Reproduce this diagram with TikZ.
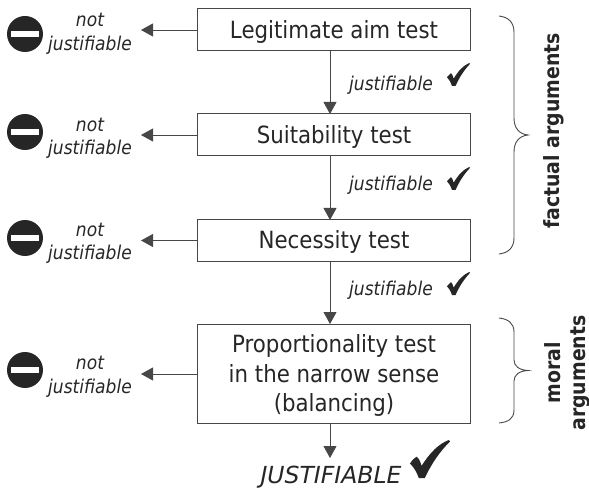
\documentclass[tikz,border=0pt]{standalone}
\usepackage{fontspec}
\setmainfont{DejaVu Sans}[FakeStretch=0.9]
\newfontfamily\widefont{DejaVu Sans}[FakeStretch=1.0]
\usetikzlibrary{arrows.meta}
\definecolor{ink}{HTML}{262626}
\newcommand{\tickshape}{\fill[ink] (0,.62) .. controls (.08,.5) .. (.17,.44) .. controls (.23,.5) .. (.29,.68) .. controls (.5,.33) and (.72,.1) .. (.97,0) -- (1,.04) .. controls (.75,.3) and (.55,.6) .. (.37,1) -- (.22,1) .. controls (.17,.85) and (.1,.72) .. (0,.62) -- cycle;}
\tikzset{
  testbox/.style={draw=ink!85,line width=1pt,fill=white,minimum width=273pt,align=center,inner sep=0pt,font=\fontsize{23.7}{29.5}\selectfont,text=ink},
  flow/.style={draw=ink!85,line width=.8pt,-{Triangle[length=12pt,width=13pt]}},
  italabel/.style={font=\fontsize{19}{23.5}\selectfont\itshape,text=ink,align=center,inner sep=0pt},
  sidelabel/.style={font=\fontsize{21}{25}\selectfont\bfseries,text=ink,align=center,inner sep=0pt,rotate=90},
  bracepath/.style={draw=ink!85,line width=.9pt},
  stopdisc/.style={circle,fill=ink,minimum size=36pt,inner sep=0pt},
  stopbar/.style={fill=white,minimum width=28pt,minimum height=5.5pt,inner sep=0pt},
  smalltick/.pic={\begin{scope}[x=23pt,y=-23pt]\tickshape\end{scope}},
  bigtick/.pic={\begin{scope}[x=40pt,y=-38pt]\tickshape\end{scope}}
}
\begin{document}
\begin{tikzpicture}[x=1pt,y=-1pt]
\useasboundingbox (0,0) rectangle (589,489);
\node[testbox,minimum height=42pt] (t1) at (333.5,30) {};
\node[testbox,minimum height=42pt] (t2) at (333.5,135) {};
\node[testbox,minimum height=42pt] (t3) at (333.5,240.5) {};
\node[testbox,minimum height=99pt] (t4) at (333.5,373.5) {};
\node[testbox,draw=none,fill=none,minimum width=0pt] (l1) at (334,31.5) {Legitimate aim test};
\node[testbox,draw=none,fill=none,minimum width=0pt] (l2) at (334,136.5) {Suitability test};
\node[testbox,draw=none,fill=none,minimum width=0pt] (l3) at (334,242) {Necessity test};
\node[testbox,draw=none,fill=none,minimum width=0pt] (l4) at (334,375.5) {Proportionality test\\in the narrow sense\\(balancing)};
\node[italabel] (n1) at (90,34) {not\\justifiable};
\node[italabel] (n2) at (90,138.5) {not\\justifiable};
\node[italabel] (n3) at (90,243.5) {not\\justifiable};
\node[italabel] (n4) at (90,377) {not\\justifiable};
\coordinate (a1) at (141,30);
\coordinate (a2) at (141,135);
\coordinate (a3) at (141,240.5);
\coordinate (a4) at (141,374);
\coordinate (d1) at (330,114);
\coordinate (d2) at (330,220);
\coordinate (d3) at (330,324);
\coordinate (d4) at (330,458);
\draw[flow] (t1.west) -- (a1);
\draw[flow] (t2.west) -- (a2);
\draw[flow] (t3.west) -- (a3);
\draw[flow] (t4.west |- a4) -- (a4);
\draw[flow] (t1.south -| d1) -- (d1);
\draw[flow] (t2.south -| d2) -- (d2);
\draw[flow] (t3.south -| d3) -- (d3);
\draw[flow] (t4.south -| d4) -- (d4);
\node[italabel] (j1) at (391,85) {justifiable};
\node[italabel] (j2) at (391,185) {justifiable};
\node[italabel] (j3) at (391,290) {justifiable};
\node[font=\widefont\fontsize{23.5}{26}\selectfont\itshape,text=ink,inner sep=0pt] (j4) at (331,477) {JUSTIFIABLE};
\pic at (447,63) {smalltick};
\pic at (447,167) {smalltick};
\pic at (447,272) {smalltick};
\pic at (410,440) {bigtick};
\foreach \n/\yy in {s1/34,s2/132,s3/238,s4/370}{
  \node[stopdisc] (\n) at (25,\yy) {};
  \node[stopbar] at (\n) {};
}
\draw[bracepath] (499,16) .. controls (508,17) and (514,22) .. (514,32) -- (514,118) .. controls (514,128) and (519,134) .. (528,135) .. controls (519,136) and (514,142) .. (514,152) -- (514,238) .. controls (514,248) and (508,253) .. (499,254);
\draw[bracepath] (499,318) .. controls (508,319) and (514,323) .. (514,332) -- (514,360) .. controls (514,366) and (519,370) .. (528,370.5) .. controls (519,371) and (514,375) .. (514,381) -- (514,410) .. controls (514,419) and (508,422) .. (499,423);
\node[sidelabel] (f) at (554,131) {factual arguments};
\node[sidelabel] (m) at (567,373) {moral\\arguments};
\end{tikzpicture}
\end{document}
